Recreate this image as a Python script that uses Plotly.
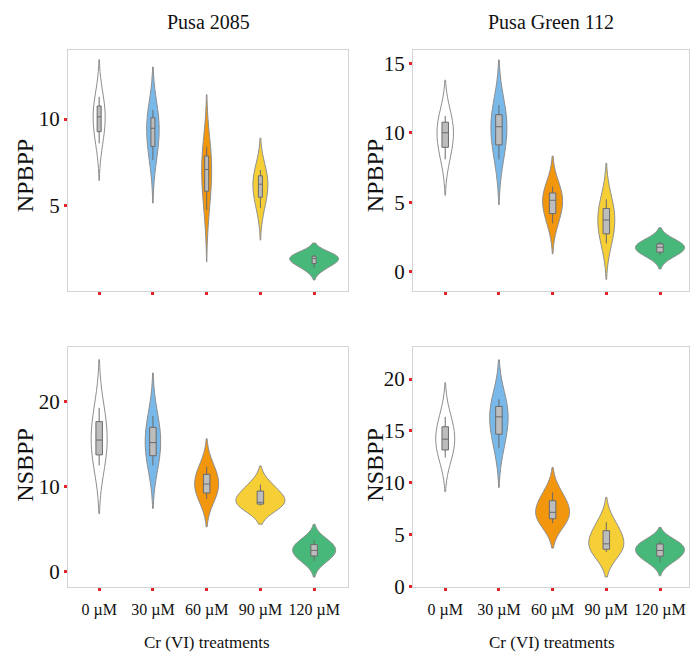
import plotly.graph_objects as go

# ---------------- data ----------------
treatments = ["0 µM", "30 µM", "60 µM", "90 µM", "120 µM"]
varieties = ["Pusa 2085", "Pusa Green 112"]

# NPBPP, Pusa 2085 (one list of samples per treatment)
npbpp_pusa2085 = [
    [8.6, 9.1, 9.33, 9.8, 10.13, 10.4, 10.67, 11.0, 11.28],
    [7.64, 8.2, 8.5, 9.1, 9.47, 9.8, 10.0, 10.3, 10.52],
    [4.77, 5.5, 5.96, 6.6, 7.1, 7.5, 7.8, 8.1, 8.41],
    [4.87, 5.3, 5.57, 5.95, 6.25, 6.5, 6.68, 6.9, 7.07],
    [1.42, 1.5, 1.74, 1.9, 1.97, 2.05, 2.09, 2.15, 2.18],
]
# NPBPP, Pusa Green 112
npbpp_pusagreen112 = [
    [8.1, 8.7, 9.06, 9.6, 10.02, 10.4, 10.7, 11.0, 11.22],
    [8.1, 8.8, 9.26, 9.9, 10.45, 10.9, 11.22, 11.6, 12.0],
    [3.5, 4.0, 4.27, 4.8, 5.16, 5.4, 5.61, 5.9, 6.14],
    [2.06, 2.5, 2.83, 3.4, 3.74, 4.1, 4.46, 4.9, 5.23],
    [1.22, 1.35, 1.46, 1.65, 1.78, 1.9, 1.99, 2.1, 2.18],
]
# NSBPP, Pusa 2085
nsbpp_pusa2085 = [
    [12.5, 13.3, 13.9, 14.8, 15.5, 16.6, 17.4, 18.5, 19.3],
    [12.5, 13.2, 13.8, 14.6, 15.2, 16.0, 16.8, 17.6, 18.35],
    [8.55, 9.0, 9.33, 9.9, 10.3, 10.8, 11.3, 11.9, 12.35],
    [7.76, 7.85, 7.96, 8.05, 8.15, 8.6, 9.33, 9.9, 10.24],
    [1.21, 1.6, 1.88, 2.2, 2.47, 2.8, 3.06, 3.4, 3.65],
]
# NSBPP, Pusa Green 112
nsbpp_pusagreen112 = [
    [12.43, 12.9, 13.24, 13.8, 14.2, 14.7, 15.26, 15.8, 16.35],
    [13.33, 14.2, 14.84, 15.7, 16.35, 16.9, 17.24, 17.7, 18.05],
    [6.09, 6.3, 6.6, 6.9, 7.14, 7.5, 8.11, 8.7, 9.07],
    [3.3, 3.45, 3.62, 3.85, 4.1, 4.6, 5.22, 5.8, 6.18],
    [2.34, 2.7, 2.98, 3.25, 3.46, 3.7, 4.04, 4.2, 4.36],
]

# kernel bandwidths (smoothing) per violin
bw_npbpp_pusa2085 = [1.07, 1.24, 1.5, 0.92, 0.34]
bw_npbpp_pusagreen112 = [1.29, 1.63, 1.1, 1.3, 0.5]
bw_nsbpp_pusa2085 = [2.85, 2.54, 1.65, 1.1, 0.95]
bw_nsbpp_pusagreen112 = [1.65, 1.9, 1.2, 1.2, 0.66]

# ---------------- styling ----------------
# drawn violin widths (px) and inner box widths (px) per panel
vw_px = [
    [12, 12.5, 10, 15, 49],
    [16.5, 16, 20, 17, 49],
    [16, 15.5, 24, 49, 43],
    [19, 18.5, 34, 35, 49],
]
box_px = [4, 6.5, 6.5, 6.5]
CAT_PX = 53.75  # pixel distance between categories

fill_colors = ["#ffffff", "#78b9ea", "#f2960e", "#f6cf36", "#47b87a"]
line_color = "#8e8e8e"
FONT = "Liberation Serif, Times New Roman, serif"
W, H = 694, 657
VK = 1 / 0.9855  # vertical compensation for the capture

panels = [
    (npbpp_pusa2085, bw_npbpp_pusa2085, "x", "y"),
    (npbpp_pusagreen112, bw_npbpp_pusagreen112, "x2", "y2"),
    (nsbpp_pusa2085, bw_nsbpp_pusa2085, "x3", "y3"),
    (nsbpp_pusagreen112, bw_nsbpp_pusagreen112, "x4", "y4"),
]

fig = go.Figure()
for p, (data, bws, xa, ya) in enumerate(panels):
    for i, cat in enumerate(treatments):
        vals = data[i]
        vpx = vw_px[p][i]
        fig.add_trace(go.Violin(
            x=[cat] * len(vals), y=vals, xaxis=xa, yaxis=ya,
            bandwidth=bws[i], spanmode="soft",
            scalemode="width", width=vpx / CAT_PX,
            fillcolor=fill_colors[i], opacity=1,
            line=dict(color=line_color, width=1),
            points=False,
            box=dict(visible=True, width=min(1.0, box_px[p] / vpx), fillcolor="#bdbdbd",
                     line=dict(color="#6a6a6a", width=1)),
            meanline=dict(visible=False),
            showlegend=False, hoverinfo="skip",
        ))

def ypx(v):
    return (v + 0.7) * VK

def xd(a, b):
    return [a / W, b / W]

def yd(top, bottom):
    return [1 - ypx(bottom) / H, 1 - ypx(top) / H]

left_x, right_x = xd(68, 348), xd(413, 689)
top_y, bot_y = yd(49, 291), yd(347, 588)

axis_common = dict(showline=True, mirror=True, linecolor="#d4d4d4", linewidth=1,
                   showgrid=False, zeroline=False, ticks="outside", ticklen=3,
                   tickwidth=3, tickcolor="#e0262a")
xcommon = dict(axis_common, type="category", categoryorder="array",
               categoryarray=treatments, ticklabelstandoff=4,
               tickfont=dict(family=FONT, size=16, color="#111"))
ycommon = dict(axis_common, tickfont=dict(family=FONT, size=21, color="#111"))

fig.update_layout(
    width=W, height=H, margin=dict(l=0, r=0, t=0, b=0),
    paper_bgcolor="white", plot_bgcolor="white",
    violinmode="overlay",
    font=dict(family=FONT, color="#111"),
    xaxis=dict(xcommon, domain=left_x, anchor="y", range=[-0.58, 4.63], showticklabels=False),
    yaxis=dict(ycommon, domain=top_y, anchor="x", range=[0.1, 14.0], dtick=5),
    xaxis2=dict(xcommon, domain=right_x, anchor="y2", range=[-0.6, 4.54], showticklabels=False),
    yaxis2=dict(ycommon, domain=top_y, anchor="x2", range=[-1.37, 16.0], dtick=5),
    xaxis3=dict(xcommon, domain=left_x, anchor="y3", range=[-0.58, 4.63]),
    yaxis3=dict(ycommon, domain=bot_y, anchor="x3", range=[-1.9, 26.5], dtick=10),
    xaxis4=dict(xcommon, domain=right_x, anchor="y4", range=[-0.6, 4.54]),
    yaxis4=dict(ycommon, domain=bot_y, anchor="x4", range=[-0.1, 23.1], dtick=5),
)

def ann(text, xp, yp, size, angle=0):
    fig.add_annotation(text=text, x=xp / W, y=1 - ypx(yp) / H,
                       xref="paper", yref="paper",
                       showarrow=False, textangle=angle,
                       font=dict(family=FONT, size=size, color="#111"),
                       xanchor="center", yanchor="middle")

ann(varieties[0], 208, 21, 20)
ann(varieties[1], 551, 21, 20)
ann("NPBPP", 25, 176, 24, -90)
ann("NPBPP", 375, 176, 24, -90)
ann("NSBPP", 25, 466, 24, -90)
ann("NSBPP", 375, 466, 24, -90)
ann("Cr (VI) treatments", 207, 643, 17)
ann("Cr (VI) treatments", 552, 643, 17)

# remove the default page margin so the figure sits at the window origin
fig.write_html(
    "out.html",
    config={"displayModeBar": False},
    post_script="document.body.style.margin='0';document.documentElement.style.overflow='hidden';",
)
